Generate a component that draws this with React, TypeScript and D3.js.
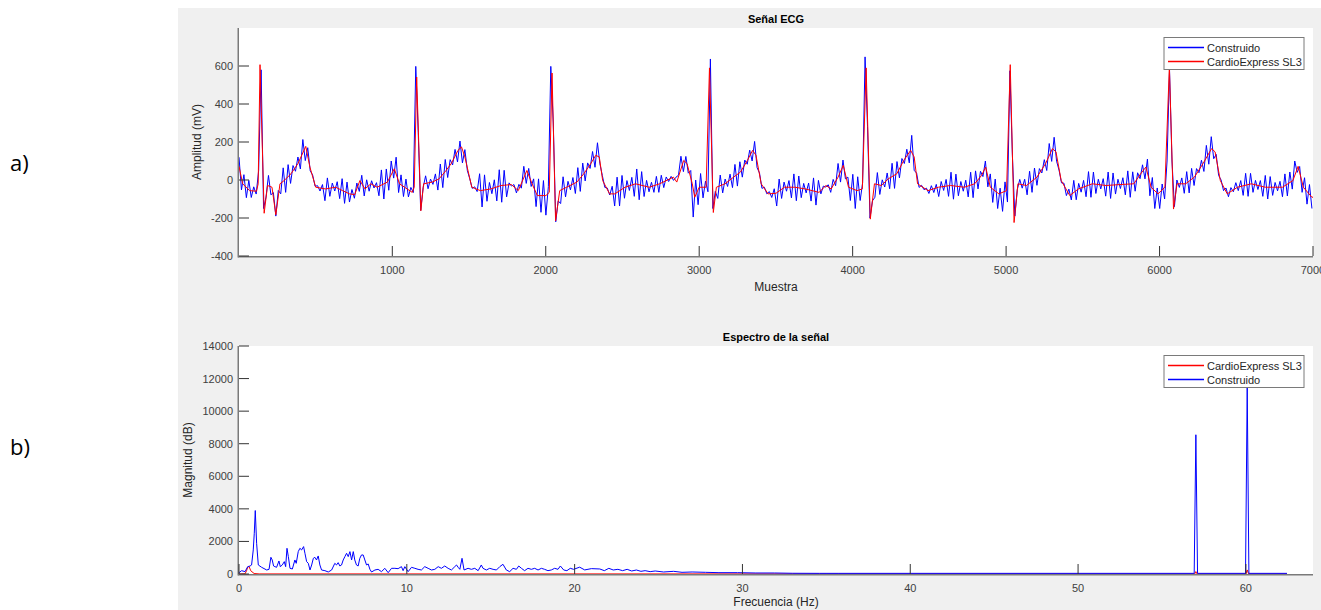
import React from "react";
import * as d3 from "d3";

// ---------- a) Señal ECG ----------
const ecgXTicks = [1000, 2000, 3000, 4000, 5000, 6000, 7000];
const ecgYTicks = [-400, -200, 0, 200, 400, 600];

// CardioExpress SL3 trace, [muestra, mV]
const cardioExpressEcg: [number, number][] = [
  [1, 72], [25, -20], [70, -56], [115, -59], [126, -20], [138, 607], [165, -175], [187, -29], [216, -38], [241, -183],
  [268, -20], [295, -3], [340, 33], [385, 86], [436, 177], [463, 68], [501, -38], [564, -47], [631, -38], [676, -56],
  [721, -73], [755, -77], [789, -3], [822, -47], [860, -20], [901, -38], [968, -11], [1013, 59], [1047, -20], [1080, -38],
  [1130, -65], [1143, -38], [1159, 542], [1186, -162], [1204, -20], [1260, -11], [1305, 6], [1350, 50], [1384, 86], [1428, 156],
  [1451, 174], [1473, 121], [1518, -38], [1574, -56], [1642, -47], [1709, -29], [1776, -24], [1821, -56], [1877, 50], [1911, -20],
  [1945, -82], [2001, -82], [2023, -65], [2041, 563], [2064, -215], [2091, -56], [2136, -38], [2203, -11], [2248, 33], [2293, 86],
  [2326, 130], [2349, 121], [2371, -3], [2416, -73], [2450, -73], [2517, -38], [2585, -20], [2674, -38], [2742, -20], [2832, 15],
  [2854, -11], [2899, 103], [2921, 86], [2955, -20], [2971, -91], [3000, -38], [3045, -38], [3067, 590], [3092, -171], [3112, -38],
  [3168, -20], [3224, 15], [3269, 42], [3314, 103], [3348, 156], [3370, 130], [3404, -20], [3449, -73], [3500, -70], [3556, -38],
  [3623, -38], [3691, -47], [3781, -65], [3826, -29], [3860, -47], [3905, 15], [3939, 77], [3973, -38], [4029, -56], [4063, -47],
  [4088, 590], [4115, -206], [4142, -20], [4187, -29], [4232, 6], [4288, 33], [4333, 103], [4378, 156], [4401, 121], [4423, -20],
  [4491, -56], [4559, -38], [4638, -29], [4728, -38], [4795, -20], [4840, 24], [4867, 68], [4897, -38], [4953, -73], [5003, -56],
  [5027, 607], [5052, -224], [5077, -20], [5133, -29], [5201, 15], [5257, 86], [5302, 165], [5325, 148], [5359, -3], [5415, -82],
  [5471, -47], [5562, -20], [5652, -29], [5742, -24], [5832, -20], [5877, 33], [5911, 68], [5945, -38], [5990, -73], [6035, -38],
  [6064, 595], [6091, -153], [6114, -20], [6170, -20], [6227, 15], [6283, 86], [6339, 165], [6362, 148], [6396, -3], [6441, -73],
  [6508, -38], [6598, -20], [6689, -38], [6801, -38], [6869, -3], [6903, 72], [6937, -38], [6993, -91], [7000, -90],
];

// Construido trace: one value every 16 samples starting at sample 1 (mV)
const construidoStart = 1;
const construidoStep = 16;
const construidoEcg = [
  120, -52, 28, -93, -2, -92, -36, -74,
  50, 580, -150, -90, 24, -78, -66, -190,
  -55, -73, 64, -65, 81, -18, 76, 46,
  121, 58, 213, 102, 170, 49, 26, -33,
  -30, -58, -24, -109, 11, -86, -16, -58,
  -9, -98, 7, -123, -11, -116, -50, -96,
  -16, -60, 25, -84, 1, -59, -4, -42,
  -14, -83, 53, -100, 58, -54, 100, 10,
  120, -66, 27, -87, 5, -89, -39, -66,
  598, 250, -160, -40, 22, -46, 5, -23,
  32, -53, 84, -40, 108, 13, 107, 79,
  161, 95, 205, 90, 160, 50, 6, -44,
  -36, -61, 33, -142, 27, -112, -13, -72,
  1, -110, 54, -117, 51, -89, -15, -32,
  -24, -68, -23, -43, 72, -18, 61, -34,
  6, -140, 6, -170, -3, -185, -35, 598,
  300, -220, -110, -124, 17, -89, -7, -52,
  13, -71, 65, -60, 89, -5, 90, 61,
  150, 67, 196, 85, 23, -39, -42, -79,
  -33, -137, 15, -137, 24, -96, -3, -55,
  14, -86, 58, -104, 44, -87, -2, -62,
  -12, -65, 19, -65, 25, -40, 16, -8,
  19, -2, 15, 25, 125, 44, 124, 36,
  50, -195, 0, -130, 34, -94, -6, -62,
  637, -150, -60, -97, 26, -68, 5, -34,
  31, -40, 82, -32, 96, 15, 105, 83,
  157, 100, 203, 65, 37, -44, -38, -73,
  -61, -92, -46, -137, 5, -97, -11, -59,
  -3, -94, 32, -109, 21, -93, -18, -68,
  -16, -111, 11, -132, -2, -73, -32, -37,
  -25, -65, 3, -30, 87, -11, 105, 6,
  15, -108, 30, -150, 17, -108, -15, 648,
  280, -200, -110, -91, 39, -76, 1, -37,
  37, -46, 88, -44, 97, 11, 113, 87,
  162, 90, 235, 51, 36, -39, -28, -51,
  -43, -71, -30, -66, -23, -87, -8, -55,
  3, -86, 41, -101, 31, -83, -8, -59,
  -1, -89, 41, -93, 48, -47, 46, 18,
  100, -36, 32, -118, 5, -150, -43, -165,
  -10, -116, 575, 130, -190, -50, 3, -43,
  4, -78, 46, -65, 63, -28, 60, 37,
  107, 50, 192, 98, 225, 99, 52, -15,
  -17, -82, -48, -105, -2, -104, -18, -64,
  -2, -88, 44, -91, 42, -71, 4, -47,
  7, -85, 42, -97, 37, -74, 4, -45,
  12, -78, 48, -91, 43, -59, 38, 7,
  80, 6, 110, -83, 13, -150, -42, -150,
  -21, -100, 100, 580, 100, -140, 0, -39,
  11, -70, 44, -68, 61, -29, 60, 38,
  104, 45, 182, 83, 228, 112, 135, 24,
  0, -56, -42, -88, -40, -62, -14, -56,
  -3, -81, 35, -86, 35, -65, -2, -50,
  -3, -86, 24, -100, 18, -81, -13, -57,
  -7, -88, 32, -84, 42, -48, 100, 40,
  71, -65, 12, -127, -24, -150,
];

// ---------- b) Espectro de la señal ----------
const specXTicks = [0, 10, 20, 30, 40, 50, 60];
const specYTicks = [0, 2000, 4000, 6000, 8000, 10000, 12000, 14000];

// [Hz, magnitud]
const cardioExpressSpec: [number, number][] = [
  [0, 0], [0.36, 10], [0.45, 200], [0.52, 430], [0.6, 460], [0.7, 200], [0.9, 30], [1.2, 5], [35, 5],
  [56.95, 5], [57.02, 150], [57.09, 5], [60.0, 5], [60.08, 250], [60.16, 5], [62.45, 4],
];

const construidoSpec: [number, number][] = [
  [0, 82], [0.16, 205], [0.36, 144], [0.52, 451], [0.66, 492], [0.75, 554], [0.85, 1477], [0.91, 2502], [0.97, 3897], [1.05, 1887],
  [1.15, 554], [1.35, 410], [1.65, 246], [1.79, 287], [1.9, 1026], [1.98, 861], [2.06, 492], [2.14, 451], [2.24, 410], [2.38, 800],
  [2.46, 451], [2.58, 554], [2.7, 759], [2.78, 451], [2.86, 1579], [2.94, 1067], [3.04, 349], [3.18, 308], [3.33, 861], [3.41, 656],
  [3.53, 1374], [3.63, 1579], [3.73, 1477], [3.85, 1682], [3.93, 1272], [4.03, 759], [4.13, 656], [4.23, 246], [4.33, 554], [4.43, 964],
  [4.52, 1026], [4.62, 861], [4.72, 1108], [4.82, 554], [4.92, 246], [5.12, 205], [5.32, 123], [5.52, 246], [5.71, 656], [5.81, 554],
  [5.91, 697], [6.01, 492], [6.11, 554], [6.21, 861], [6.31, 1067], [6.41, 1272], [6.51, 1067], [6.61, 1374], [6.71, 861], [6.81, 1374],
  [6.9, 861], [7.0, 554], [7.1, 492], [7.2, 964], [7.3, 1169], [7.4, 1169], [7.5, 861], [7.6, 554], [7.7, 615], [7.8, 287],
  [7.9, 123], [8.1, 246], [8.29, 287], [8.49, 144], [8.69, 349], [8.89, 82], [9.09, 349], [9.29, 349], [9.48, 328], [9.68, 451],
  [9.78, 205], [9.88, 451], [10.08, 144], [10.28, 410], [10.48, 349], [10.67, 287], [10.87, 246], [11.07, 451], [11.27, 349], [11.47, 246],
  [11.67, 287], [11.87, 451], [12.06, 349], [12.26, 492], [12.46, 349], [12.66, 246], [12.86, 451], [12.96, 554], [13.06, 410], [13.16, 287],
  [13.29, 964], [13.41, 246], [13.65, 349], [13.85, 287], [14.05, 349], [14.25, 205], [14.44, 554], [14.54, 349], [14.74, 246], [14.94, 349],
  [15.14, 287], [15.34, 246], [15.54, 451], [15.73, 595], [15.93, 246], [16.13, 144], [16.33, 349], [16.53, 287], [16.67, 492], [16.83, 349],
  [17.02, 205], [17.22, 349], [17.42, 287], [17.62, 349], [17.82, 246], [18.02, 349], [18.21, 287], [18.41, 205], [18.61, 246], [18.81, 349],
  [19.01, 287], [19.15, 492], [19.35, 246], [19.54, 205], [19.74, 349], [19.94, 287], [20.3, 420], [20.6, 250], [21.0, 330], [21.5, 308],
  [21.77, 205], [22.04, 349], [22.3, 246], [22.58, 287], [22.86, 205], [23.13, 287], [23.4, 185], [23.68, 246], [23.95, 164], [24.2, 205],
  [24.5, 144], [24.8, 185], [25.3, 123], [25.9, 164], [26.4, 103], [27.0, 123], [27.8, 103], [28.6, 82], [29.7, 82], [30.8, 62],
  [31.9, 62], [33.0, 45], [34.6, 40], [35.7, 40], [56.92, 40], [57.02, 8550], [57.12, 40], [59.98, 40], [60.08, 11450], [60.18, 40],
  [62.45, 40],
];

const FONT = "'Liberation Sans', Arial, Helvetica, sans-serif";
const BLUE = "#0000ff";
const RED = "#ff0000";

type Series = { points: [number, number][]; color: string };
type LegendItem = { label: string; color: string };

function Panel(props: {
  id: string;
  top: number;
  bottom: number;
  xDomain: [number, number];
  yDomain: [number, number];
  xTicks: number[];
  yTicks: number[];
  title: string;
  xLabel: string;
  xLabelDy: number;
  yLabel: string;
  yLabelX: number;
  series: Series[];
  legend: LegendItem[];
  legendY: number;
}) {
  const { id, top, bottom, title, xLabel, xLabelDy, yLabel, yLabelX, legendY } = props;
  const left = 239, right = 1313;
  const x = d3.scaleLinear().domain(props.xDomain).range([left, right]);
  const y = d3.scaleLinear().domain(props.yDomain).range([bottom, top]);
  const line = d3.line<[number, number]>().x(d => x(d[0])).y(d => y(d[1]));
  const midX = (left + right) / 2;

  return (
    <g>
      <rect x={left} y={top} width={right - left} height={bottom - top} fill="#ffffff" />
      <clipPath id={id}>
        <rect x={left} y={top} width={right - left} height={bottom - top} />
      </clipPath>
      <g clipPath={`url(#${id})`}>
        {props.series.map((s, i) => (
          <path key={i} d={line(s.points) || ""} fill="none" stroke={s.color} strokeWidth={1} strokeLinejoin="round" />
        ))}
      </g>

      {/* axes (box off, like the MATLAB figure) */}
      <line x1={left - 0.75} x2={right} y1={bottom + 0.75} y2={bottom + 0.75} stroke="#7a7a7a" strokeWidth={1.5} />
      <line x1={left - 0.75} x2={left - 0.75} y1={top} y2={bottom + 1.5} stroke="#7a7a7a" strokeWidth={1.5} />
      {props.xTicks.map(t => (
        <g key={"x" + t}>
          <line x1={x(t)} x2={x(t)} y1={bottom} y2={bottom - 10} stroke="#333" strokeWidth={1} />
          <text x={x(t)} y={bottom + 18} textAnchor="middle" fontFamily={FONT} fontSize={11} fill="#404040">{t}</text>
        </g>
      ))}
      {props.yTicks.map(t => (
        <g key={"y" + t}>
          <line x1={left} x2={left + 10} y1={y(t)} y2={y(t)} stroke="#333" strokeWidth={1} />
          <text x={left - 6} y={y(t) + 4} textAnchor="end" fontFamily={FONT} fontSize={11} fill="#404040">{t}</text>
        </g>
      ))}

      <text x={midX} y={top - 5} textAnchor="middle" fontFamily={FONT} fontSize={11} fontWeight="bold" fill="#000">{title}</text>
      <text x={midX} y={bottom + xLabelDy} textAnchor="middle" fontFamily={FONT} fontSize={12} fill="#262626">{xLabel}</text>
      <text
        transform={`translate(${yLabelX},${(top + bottom) / 2}) rotate(-90)`}
        textAnchor="middle"
        dominantBaseline="central"
        fontFamily={FONT}
        fontSize={12}
        fill="#262626"
      >
        {yLabel}
      </text>

      {/* legend */}
      <g transform={`translate(1164,${legendY})`}>
        <rect x={0} y={0} width={140} height={32} fill="#ffffff" stroke="#7a7a7a" strokeWidth={1} />
        {props.legend.map((d, i) => (
          <g key={d.label} transform={`translate(0,${10 + i * 14})`}>
            <line x1={4} x2={40} y1={0} y2={0} stroke={d.color} strokeWidth={1.5} />
            <text x={43} y={0} dominantBaseline="central" fontFamily={FONT} fontSize={11} fill="#262626">{d.label}</text>
          </g>
        ))}
      </g>
    </g>
  );
}

export default function App() {
  const construidoPoints: [number, number][] = construidoEcg.map((v, i) => [construidoStart + i * construidoStep, v]);

  return (
    <svg width={1321} height={610} style={{ position: "absolute", left: 0, top: 0, display: "block" }}>
      <rect x={0} y={0} width={1321} height={610} fill="#ffffff" />
      <rect x={178} y={8} width={1143} height={602} fill="#f0f0f0" />

      <text x={10} y={171} fontFamily="'Open Sans', 'DejaVu Sans', sans-serif" fontSize={22} fill="#000">a)</text>
      <text x={10} y={455} fontFamily="'Open Sans', 'DejaVu Sans', sans-serif" fontSize={22} fill="#000">b)</text>

      <Panel
        id="clip-ecg"
        top={28}
        bottom={256}
        xDomain={[1, 7000]}
        yDomain={[-400, 800]}
        xTicks={ecgXTicks}
        yTicks={ecgYTicks}
        title="Señal ECG"
        xLabel="Muestra"
        xLabelDy={35}
        yLabel="Amplitud (mV)"
        yLabelX={197}
        series={[
          { points: construidoPoints, color: BLUE },
          { points: cardioExpressEcg, color: RED },
        ]}
        legend={[
          { label: "Construido", color: BLUE },
          { label: "CardioExpress SL3", color: RED },
        ]}
        legendY={37.5}
      />

      <Panel
        id="clip-spec"
        top={346}
        bottom={574}
        xDomain={[0, 64]}
        yDomain={[0, 14000]}
        xTicks={specXTicks}
        yTicks={specYTicks}
        title="Espectro de la señal"
        xLabel="Frecuencia (Hz)"
        xLabelDy={32}
        yLabel="Magnitud (dB)"
        yLabelX={188}
        series={[
          { points: cardioExpressSpec, color: RED },
          { points: construidoSpec, color: BLUE },
        ]}
        legend={[
          { label: "CardioExpress SL3", color: RED },
          { label: "Construido", color: BLUE },
        ]}
        legendY={355.5}
      />
    </svg>
  );
}
